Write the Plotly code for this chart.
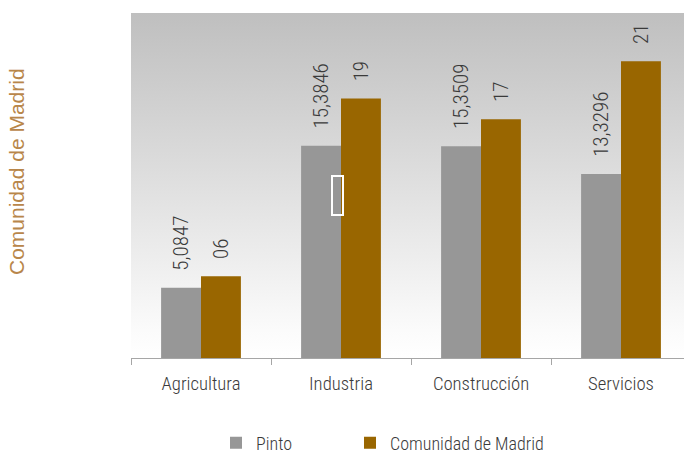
import plotly.graph_objects as go

categories = ["Agricultura", "Industria", "Construcción", "Servicios"]
pinto = [5.0847, 15.3846, 15.3509, 13.3296]
pinto_labels = ["5,0847", "15,3846", "15,3509", "13,3296"]
madrid = [5.93, 18.8, 17.3, 21.5]
madrid_labels = ["06", "19", "17", "21"]

FONT = "Roboto Condensed, Liberation Sans Narrow, DejaVu Sans Condensed, Liberation Sans, Arial, sans-serif"
TXT = "#3a3a3a"
PAD = "\u00a0\u00a0\u00a0"

L, T, W, H = 131, 13, 553, 345

fig = go.Figure()

# gradient background of the plot area (on hidden base axes)
fig.add_trace(go.Scatter(
    x=[0, 1, 1, 0, 0], y=[0, 0, 1, 1, 0], xaxis="x", yaxis="y",
    mode="lines", line=dict(width=0), fill="toself",
    fillgradient=dict(type="vertical",
                      colorscale=[[0, "#ffffff"], [0.08, "#fbfbfb"], [1, "#bfbfbf"]]),
    hoverinfo="skip", showlegend=False))

fig.add_trace(go.Bar(
    name="Pinto", x=categories, y=pinto, text=pinto_labels,
    texttemplate=PAD + "%{text}",
    xaxis="x2", yaxis="y2", legend="legend",
    marker=dict(color="#979797", line=dict(width=0)),
    textposition="outside", textangle=-90, constraintext="none",
    textfont=dict(family=FONT, size=21, weight=300, color=TXT), cliponaxis=False))
fig.add_trace(go.Bar(
    name="Comunidad de Madrid", x=categories, y=madrid, text=madrid_labels,
    texttemplate=PAD + "%{text}",
    xaxis="x2", yaxis="y2", legend="legend2",
    marker=dict(color="#996600", line=dict(width=0)),
    textposition="outside", textangle=-90, constraintext="none",
    textfont=dict(family=FONT, size=21, weight=300, color=TXT), cliponaxis=False))

def px_x(p):
    return (p - L) / W

def px_y(p):
    return (T + H - p) / H

fig.update_layout(
    width=684, height=454,
    margin=dict(l=L, r=0, t=T, b=454 - T - H, autoexpand=False),
    paper_bgcolor="white", plot_bgcolor="rgba(0,0,0,0)",
    barmode="group", bargap=0.43, bargroupgap=0,
    showlegend=True,
    legend=dict(x=px_x(216), xanchor="left", y=px_y(443), yanchor="middle",
                bgcolor="rgba(0,0,0,0)", borderwidth=0,
                font=dict(family=FONT, size=18, weight=300, color=TXT)),
    legend2=dict(x=px_x(350), xanchor="left", y=px_y(443), yanchor="middle",
                 bgcolor="rgba(0,0,0,0)", borderwidth=0,
                 font=dict(family=FONT, size=18, weight=300, color=TXT)),
    xaxis=dict(range=[0, 1], visible=False, fixedrange=True),
    yaxis=dict(range=[0, 1], visible=False, fixedrange=True),
    xaxis2=dict(overlaying="x", anchor="y2", type="category", range=[-0.5, 3.45],
                showgrid=False, showline=True,
                linecolor="#a6a6a6", linewidth=1, ticks="outside",
                tickson="boundaries", ticklen=6, tickcolor="#a6a6a6",
                ticklabelstandoff=9,
                tickfont=dict(family=FONT, size=18.7, weight=300, color=TXT)),
    yaxis2=dict(overlaying="y", anchor="x2", range=[0, 25], showgrid=False,
                showticklabels=False, zeroline=False, showline=False, ticks=""),
    annotations=[dict(text="Comunidad de Madrid", textangle=-90,
                      xref="paper", yref="paper", x=px_x(16), y=px_y(172),
                      xanchor="center", yanchor="middle", showarrow=False,
                      font=dict(family="Liberation Sans, Arial, sans-serif",
                                size=21, color="#b8864a"))],
    shapes=[dict(type="rect", xref="paper", yref="paper",
                 x0=px_x(332), x1=px_x(343), y0=px_y(215), y1=px_y(176),
                 line=dict(color="white", width=2), fillcolor="rgba(0,0,0,0)")],
)

fig.write_html("out.html", config={"displayModeBar": False},
               post_script="document.body.style.margin='0';document.body.style.overflow='hidden';")
